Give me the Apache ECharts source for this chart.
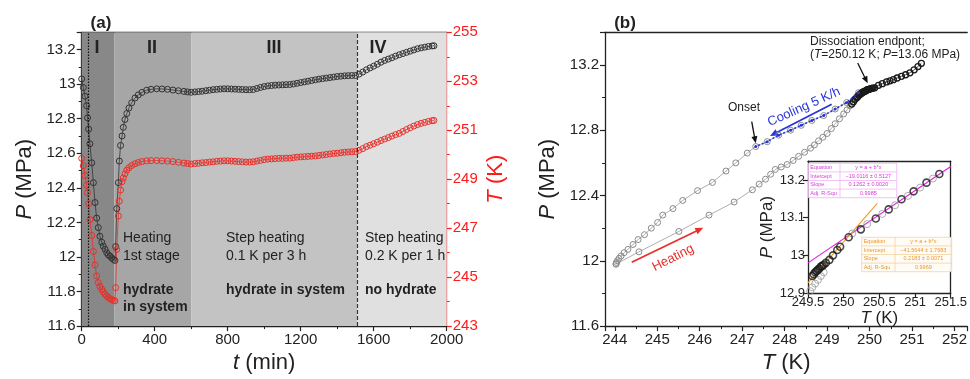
<!DOCTYPE html>
<html><head><meta charset="utf-8">
<script src="https://cdn.jsdelivr.net/npm/echarts@6/dist/echarts.min.js"></script>
<style>html,body{margin:0;padding:0;background:#fff}#c{width:970px;height:379px}</style>
</head><body><div id="c"></div>
<script>
// ---------- Panel (a): time series ----------
const timeMin = [0,9,18,27,32,38,45,55,64,73,82,91,100,110,118,128,137,146,155,164,173,182,186,192,201,206,213,221,228,237,247,259,274,292,310,330,356,380,411,440,470,500,530,560,580,
600,620,640,660,680,700,720,740,760,780,800,820,840,860,880,900,920,940,960,980,1000,1020,1040,1060,1080,1100,1120,1140,1160,1180,1200,1220,1240,1260,1280,1300,1320,1340,1360,1380,1400,1420,1440,1460,1480,1500,1520,1540,1560,1580,1600,1620,1640,1660,1680,1700,1720,1740,1760,1780,1800,1820,1840,1860,1880,1900,1920,1930];
const pressureA = [13.03,12.98,12.93,12.875,12.805,12.74,12.655,12.545,12.43,12.315,12.225,12.17,12.12,12.085,12.063,12.045,12.025,12.012,12.005,11.995,11.986,11.98,12.06,12.28,12.43,12.555,12.645,12.70,12.75,12.795,12.83,12.862,12.892,12.92,12.938,12.952,12.965,12.97,12.973,12.972,12.97,12.966,12.962,12.958,12.955,
12.953,12.955,12.957,12.959,12.962,12.965,12.968,12.970,12.972,12.973,12.973,12.972,12.971,12.970,12.969,12.968,12.968,12.969,12.975,12.981,12.986,12.990,12.992,12.994,12.995,12.996,12.997,12.998,13.001,13.005,13.009,13.013,13.017,13.021,13.025,13.029,13.032,13.035,13.038,13.041,13.044,13.046,13.048,13.049,13.050,13.050,13.058,13.070,13.083,13.094,13.104,13.115,13.127,13.137,13.145,13.153,13.162,13.170,13.177,13.184,13.191,13.198,13.205,13.210,13.214,13.218,13.221,13.222];
const temperatureA = [249.85,249.55,249.15,248.75,248.45,248.0,247.35,246.7,246.05,245.5,245.05,244.78,244.62,244.5,244.4,244.3,244.23,244.17,244.12,244.08,244.05,244.03,244.57,246.13,247.5,248.1,248.55,248.9,249.05,249.22,249.37,249.47,249.56,249.63,249.68,249.72,249.75,249.76,249.76,249.75,249.74,249.72,249.69,249.66,249.64,
249.62,249.64,249.65,249.67,249.68,249.70,249.71,249.73,249.74,249.75,249.75,249.74,249.73,249.72,249.71,249.70,249.70,249.71,249.74,249.77,249.80,249.82,249.83,249.84,249.85,249.85,249.86,249.86,249.88,249.90,249.91,249.92,249.93,249.94,249.95,249.97,249.99,250.01,250.03,250.05,250.06,250.08,250.10,250.11,250.12,250.13,250.18,250.25,250.33,250.39,250.45,250.51,250.58,250.64,250.70,250.76,250.82,250.87,250.95,251.03,251.10,251.17,251.23,251.28,251.32,251.36,251.39,251.40];
const regionBounds = [0, 180, 600, 1510, 2000];
const regionNames = ['I', 'II', 'III', 'IV'];
const dottedLineT = 36;
const dashedLineT = 1510;

// ---------- Panel (b): P vs T ----------
const coolT = [249.74,249.46,249.19,248.92,248.64,248.39,248.14,247.86,247.59,247.32,247.12,246.85,246.62,246.30,245.95,245.60,245.37,245.13,245.01,244.86,244.70,244.55,244.43,244.31,244.22,244.15,244.10,244.06,244.04,244.03];
const coolP = [13.03,12.97,12.93,12.89,12.86,12.83,12.80,12.77,12.73,12.70,12.66,12.60,12.55,12.48,12.43,12.37,12.32,12.28,12.235,12.20,12.16,12.13,12.10,12.07,12.05,12.03,12.015,12.00,11.99,11.98];
const heatT = [244.03,244.57,245.51,246.22,246.81,247.24,247.40,247.55,247.67,247.78,247.92,248.06,248.20,248.33,248.47,248.61,248.70,248.80,248.90,249.00,249.10,249.19,249.29,249.39,249.47,249.54,249.60,249.66];
const heatP = [11.98,12.055,12.18,12.28,12.36,12.435,12.47,12.50,12.53,12.56,12.575,12.59,12.615,12.64,12.665,12.69,12.71,12.735,12.757,12.78,12.81,12.84,12.87,12.90,12.925,12.95,12.97,12.99];
const endT = [249.58,249.62,249.66,249.70,249.72,249.75,249.78,249.80,249.83,249.85,249.88,249.90,249.93,249.95,249.98,250.00,250.03,250.05,250.08,250.12,250.21,250.30,250.40,250.48,250.56,250.65,250.75,250.85,250.95,251.05,251.14,251.22];
const endP = [12.96,12.975,12.99,13.0,13.005,13.015,13.02,13.025,13.03,13.035,13.038,13.04,13.045,13.048,13.05,13.052,13.055,13.057,13.058,13.06,13.075,13.085,13.096,13.103,13.11,13.12,13.13,13.14,13.152,13.17,13.19,13.21];
const coolingRange = [247.3, 249.8];

// ---------- Inset ----------
const insetBlackT = [249.56,249.58,249.60,249.62,249.64,249.66,249.68,249.70,249.72,249.75,249.80,249.85,249.91,249.95,250.07,250.24,250.45,250.63,250.81,250.98,251.16,251.34];
const insetBlackP = [12.945,12.95,12.955,12.958,12.962,12.965,12.97,12.972,12.975,12.98,12.988,13.0,13.014,13.023,13.048,13.069,13.098,13.122,13.149,13.17,13.193,13.216];
const insetGrayT = [249.53,249.56,249.60,249.64,249.68,249.72,250.12,250.33,250.54,250.72,250.90,251.07,251.25];
const insetGrayP = [12.905,12.915,12.925,12.935,12.945,12.955,13.058,13.083,13.11,13.133,13.158,13.18,13.204];
const fitMagentaT = [249.5, 251.5];
const fitMagentaP = [12.98, 13.236];
const fitOrangeT = [249.5, 250.47];
const fitOrangeP = [12.927, 13.138];
const tableMagenta = [['Equation','y = a + b*x'],['Intercept','\u221219.0116 \u00b1 0.5127'],['Slope','0.1262 \u00b1 0.0020'],['Adj. R-Squ','0.9985']];
const tableOrange = [['Equation','y = a + b*x'],['Intercept','\u221241.5644 \u00b1 1.7683'],['Slope','0.2183 \u00b1 0.0071'],['Adj. R-Squ','0.9969']];

// ---------- build ----------
const FONT = '"Liberation Sans", Arial, sans-serif';
const zip = (a, b) => a.map((v, i) => [v, b[i]]);
const INK = '#222';
const RED = '#ff1a1a';
const plain = v => String(Math.round(v * 1000) / 1000);

function valueAxis(o) {
  return Object.assign({
    type: 'value', splitLine: { show: false },
    axisLine: { show: true, onZero: false, lineStyle: { color: INK, width: 1.3 } },
    axisTick: { show: true, length: 5, lineStyle: { color: INK, width: 1.2 } },
    minorTick: { show: true, splitNumber: 2, length: 3, lineStyle: { color: INK, width: 1 } },
    axisLabel: { color: INK, fontSize: 15, fontFamily: FONT, margin: 6, formatter: plain },
    nameTextStyle: { fontSize: 22, color: INK, fontFamily: FONT, rich: { i: { fontStyle: 'italic', fontSize: 22, fontFamily: FONT, color: INK } } }
  }, o);
}
function frameAxis(o) {
  return Object.assign({
    type: 'value', splitLine: { show: false }, axisTick: { show: false }, axisLabel: { show: false },
    axisLine: { show: true, onZero: false, lineStyle: { color: INK, width: 1.3 } }
  }, o);
}

function arrow(x1, y1, x2, y2, color, w, hl, hw) {
  const dx = x2 - x1, dy = y2 - y1, L = Math.hypot(dx, dy), ux = dx / L, uy = dy / L;
  const bx = x2 - ux * hl, by = y2 - uy * hl;
  return [
    { type: 'line', shape: { x1, y1, x2: bx + ux, y2: by + uy }, style: { stroke: color, lineWidth: w } },
    { type: 'polygon', shape: { points: [[x2, y2], [bx - uy * hw, by + ux * hw], [bx + uy * hw, by - ux * hw]] }, style: { fill: color } }
  ];
}
function txt(x, y, text, size, opt) {
  opt = opt || {};
  return {
    type: 'text', x, y, rotation: opt.rot || 0, z: 100,
    style: {
      text, fill: opt.color || INK, fontSize: size, fontFamily: FONT, fontWeight: opt.bold ? 'bold' : 'normal',
      align: opt.align || 'left', verticalAlign: 'middle', rich: opt.rich
    }
  };
}
function table(x, y, w, h, split, rows, color, border, fill) {
  const els = [];
  const rh = h / rows.length;
  els.push({ type: 'rect', z: 100, shape: { x, y, width: w, height: h }, style: { fill, stroke: border, lineWidth: 0.7 } });
  els.push({ type: 'line', z: 100, shape: { x1: split, y1: y, x2: split, y2: y + h }, style: { stroke: border, lineWidth: 0.7 } });
  rows.forEach((r, i) => {
    if (i > 0) els.push({ type: 'line', z: 100, shape: { x1: x, y1: y + i * rh, x2: x + w, y2: y + i * rh }, style: { stroke: border, lineWidth: 0.7 } });
    els.push({ type: 'text', z: 101, x: x + 2, y: y + (i + 0.5) * rh, style: { text: r[0], fill: color, fontSize: 5.5, fontFamily: FONT, align: 'left', verticalAlign: 'middle' } });
    els.push({ type: 'text', z: 101, x: (split + x + w) / 2, y: y + (i + 0.5) * rh, style: { text: r[1], fill: color, fontSize: 5.5, fontFamily: FONT, align: 'center', verticalAlign: 'middle' } });
  });
  return els;
}

const regionColors = ['#888888', '#a6a6a6', '#c3c3c3', '#e0e0e0'];
const markAreaData = regionNames.map((n, i) => [
  { xAxis: regionBounds[i], itemStyle: { color: regionColors[i] } },
  { xAxis: regionBounds[i + 1] }
]);

const coolingIdx = coolT.map((t, i) => i).filter(i => coolT[i] >= coolingRange[0] && coolT[i] <= coolingRange[1]);

const openCircle = (stroke, size, bw) => ({
  symbol: 'circle', symbolSize: size,
  itemStyle: { color: 'rgba(255,255,255,0)', borderColor: stroke, borderWidth: bw }
});

const option = {
  animation: false,
  textStyle: { fontFamily: FONT },
  grid: [
    { left: 81.7, top: 32.3, width: 365, height: 294.4 },
    { left: 605, top: 32.3, width: 364.3, height: 294.4 },
    { left: 808, top: 161.2, width: 148.7, height: 131.8, show: true, backgroundColor: '#fff', borderWidth: 0, z: 5 }
  ],
  xAxis: [
    valueAxis({ gridIndex: 0, min: 0, max: 2000, interval: 400, name: '{i|t} (min)', nameLocation: 'middle', nameGap: 24 }),
    frameAxis({ gridIndex: 0, position: 'top', min: 0, max: 2000 }),
    valueAxis({ gridIndex: 1, min: 243.77, max: 252.3, splitNumber: 8, name: '{i|T} (K)', nameLocation: 'middle', nameGap: 24,
      axisLabel: { color: INK, fontSize: 15, fontFamily: FONT, margin: 6, showMinLabel: false, showMaxLabel: false, formatter: plain } }),
    frameAxis({ gridIndex: 1, position: 'top', min: 243.77, max: 252.3 }),
    valueAxis({ gridIndex: 2, min: 249.5, max: 251.5, interval: 0.5, name: '{i|T} (K)', nameLocation: 'middle', nameGap: 16, z: 6,
      minorTick: { show: false },
      axisLabel: { color: INK, fontSize: 13, fontFamily: FONT, margin: 3, formatter: plain },
      nameTextStyle: { fontSize: 17, color: INK, fontFamily: FONT, rich: { i: { fontStyle: 'italic', fontSize: 17, fontFamily: FONT, color: INK } } } }),
    frameAxis({ gridIndex: 2, position: 'top', min: 249.5, max: 251.5, z: 6 })
  ],
  yAxis: [
    valueAxis({ gridIndex: 0, min: 11.6, max: 13.3, interval: 0.2, name: '{i|P} (MPa)', nameLocation: 'middle', nameGap: 46,
      axisLabel: { color: INK, fontSize: 15, fontFamily: FONT, margin: 6, showMaxLabel: false, formatter: plain } }),
    valueAxis({ gridIndex: 0, position: 'right', min: 243, max: 255, interval: 2, name: '{i|T} (K)', nameLocation: 'middle', nameGap: 38,
      axisLine: { show: true, onZero: false, lineStyle: { color: RED, width: 1.3 } },
      axisTick: { show: true, length: 5, lineStyle: { color: RED, width: 1.2 } },
      minorTick: { show: true, splitNumber: 2, length: 3, lineStyle: { color: RED, width: 1 } },
      axisLabel: { color: RED, fontSize: 15, fontFamily: FONT, margin: 6, formatter: plain },
      nameTextStyle: { fontSize: 22, color: RED, fontFamily: FONT, rich: { i: { fontStyle: 'italic', fontSize: 22, fontFamily: FONT, color: RED } } } }),
    valueAxis({ gridIndex: 1, min: 11.6, max: 13.4, interval: 0.4, name: '{i|P} (MPa)', nameLocation: 'middle', nameGap: 46,
      axisLabel: { color: INK, fontSize: 15, fontFamily: FONT, margin: 6, showMaxLabel: false, formatter: plain } }),
    valueAxis({ gridIndex: 2, min: 12.9, max: 13.25, interval: 0.1, name: '{i|P} (MPa)', nameLocation: 'middle', nameGap: 30, z: 6,
      minorTick: { show: false },
      axisLabel: { color: INK, fontSize: 13, fontFamily: FONT, margin: 3, showMaxLabel: false, formatter: plain },
      nameTextStyle: { fontSize: 17, color: INK, fontFamily: FONT, rich: { i: { fontStyle: 'italic', fontSize: 17, fontFamily: FONT, color: INK } } } }),
    frameAxis({ gridIndex: 2, position: 'right', min: 12.9, max: 13.25, z: 6 })
  ],
  series: [
    { type: 'line', xAxisIndex: 0, yAxisIndex: 0, data: [], z: 0, silent: true,
      markArea: { silent: true, data: markAreaData },
      markLine: { silent: true, symbol: 'none', label: { show: false },
        data: [
          { xAxis: dottedLineT, lineStyle: { type: [1.5, 1.5], color: '#111', width: 1.2 } },
          { xAxis: dashedLineT, lineStyle: { type: [4, 2], color: '#333', width: 1.2 } }
        ] } },
    Object.assign({ type: 'line', xAxisIndex: 0, yAxisIndex: 0, data: zip(timeMin, pressureA), lineStyle: { color: '#333', width: 0.8 } }, openCircle('#333', 6, 1)),
    Object.assign({ type: 'line', xAxisIndex: 0, yAxisIndex: 1, data: zip(timeMin, temperatureA), lineStyle: { color: '#e8302a', width: 0.8 } }, openCircle('#e8302a', 6, 1)),
    // panel (b)
    Object.assign({ type: 'line', xAxisIndex: 2, yAxisIndex: 2, data: zip(coolT, coolP), lineStyle: { color: '#999', width: 0.8 } }, openCircle('#8a8a8a', 6, 1)),
    Object.assign({ type: 'line', xAxisIndex: 2, yAxisIndex: 2, data: zip(heatT, heatP), lineStyle: { color: '#999', width: 0.8 } }, openCircle('#8a8a8a', 6, 1)),
    Object.assign({ type: 'line', xAxisIndex: 2, yAxisIndex: 2, data: zip(endT, endP), lineStyle: { color: '#222', width: 0.8 } }, openCircle('#1a1a1a', 6, 1.3)),
    { type: 'line', xAxisIndex: 2, yAxisIndex: 2, data: coolingIdx.map(i => [coolT[i], coolP[i]]), symbol: 'circle', symbolSize: 3,
      itemStyle: { color: '#2a35d8' }, lineStyle: { color: '#2a35d8', width: 1.6, type: [2, 2] }, z: 4 },
    // inset
    { type: 'line', xAxisIndex: 4, yAxisIndex: 3, data: zip(fitMagentaT, fitMagentaP), symbol: 'none', lineStyle: { color: '#e020e0', width: 1.2 }, z: 7 },
    { type: 'line', xAxisIndex: 4, yAxisIndex: 3, data: zip(fitOrangeT, fitOrangeP), symbol: 'none', lineStyle: { color: '#f0a030', width: 1.2 }, z: 7 },
    Object.assign({ type: 'scatter', xAxisIndex: 4, yAxisIndex: 3, data: zip(insetGrayT, insetGrayP), z: 7 }, openCircle('#9a9a9a', 7, 1)),
    Object.assign({ type: 'scatter', xAxisIndex: 4, yAxisIndex: 3, data: zip(insetBlackT, insetBlackP), z: 8 }, openCircle('#1a1a1a', 7, 1.6))
  ],
  graphic: [].concat(
    [txt(101, 23, '(a)', 17, { bold: true, align: 'center' }), txt(625, 23, '(b)', 17, { bold: true, align: 'center' })],
    [txt(97, 48, 'I', 18, { bold: true, align: 'center' }), txt(152, 48, 'II', 18, { bold: true, align: 'center' }),
     txt(274, 48, 'III', 18, { bold: true, align: 'center' }), txt(378, 48, 'IV', 18, { bold: true, align: 'center' })],
    [txt(123, 238, 'Heating', 14), txt(123, 256, '1st stage', 14), txt(123, 290, 'hydrate', 14, { bold: true }), txt(123, 307, 'in system', 14, { bold: true }),
     txt(226, 238, 'Step heating', 14), txt(226, 256, '0.1 K per 3 h', 14), txt(226, 290, 'hydrate in system', 14, { bold: true }),
     txt(365, 238, 'Step heating', 14), txt(365, 256, '0.2 K per 1 h', 14), txt(365, 290, 'no hydrate', 14, { bold: true })],
    [txt(810, 42, 'Dissociation endpont;', 12),
     txt(810, 55, '({i|T}=250.12 K; {i|P}=13.06 MPa)', 12, { rich: { i: { fontStyle: 'italic', fontSize: 12, fontFamily: FONT, fill: INK } } }),
     txt(744, 108, 'Onset', 12, { align: 'center' }),
     txt(804, 107, 'Cooling 5 K/h', 13, { align: 'center', color: '#2a35d8', rot: 0.42 }),
     txt(673, 258, 'Heating', 13, { align: 'center', color: '#e8302a', rot: 0.47 })],
    arrow(857.7, 63, 867.7, 83.3, '#111', 1.3, 7, 3),
    arrow(751.7, 121.7, 755.7, 143.3, '#111', 1.3, 7, 3),
    arrow(831.7, 104.3, 770, 136, '#2a35d8', 1.8, 8, 3.5),
    arrow(631.7, 262.3, 703.3, 227.7, '#e8302a', 1.8, 8, 3.5),
    table(808.3, 163.3, 88.4, 34.4, 840, tableMagenta, '#d838d8', '#f0a8f0', 'rgba(255,255,255,0.95)'),
    table(861.7, 237.3, 90, 34.4, 895, tableOrange, '#e8962e', '#f5cc96', 'rgba(255,252,245,0.95)')
  )
};

const chart = echarts.init(document.getElementById('c'), null, { renderer: 'canvas' });
chart.setOption(option);
</script>
</body></html>
